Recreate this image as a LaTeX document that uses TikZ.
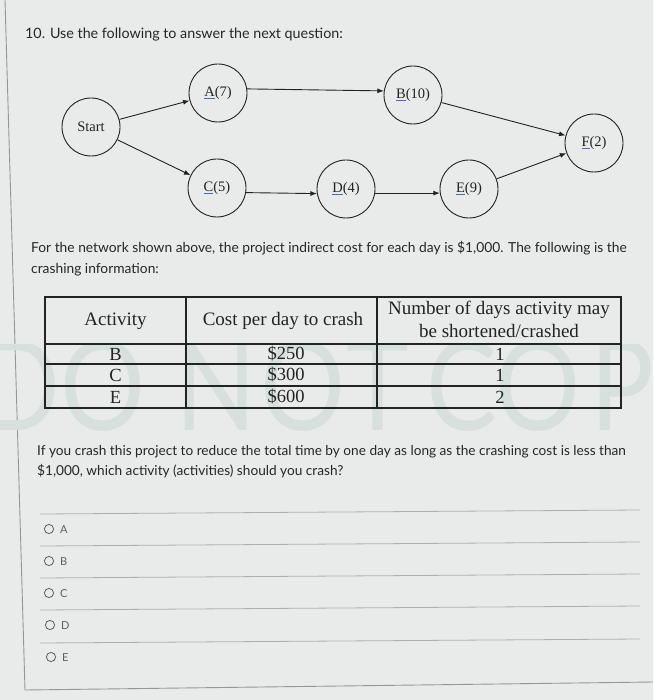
\documentclass[tikz,border=0pt]{standalone}
\usepackage{fontspec}
\usepackage{graphicx}
\setmainfont{Liberation Serif}
\newfontfamily\lato{Lato}
\usetikzlibrary{arrows.meta}
\definecolor{bg}{RGB}{233,234,234}
\definecolor{wm}{RGB}{215,224,221}
\definecolor{ulblue}{RGB}{80,100,200}
\definecolor{ink}{RGB}{35,35,35}
\definecolor{uitext}{RGB}{38,38,38}
\definecolor{optgray}{RGB}{95,95,95}
\definecolor{sepgray}{RGB}{175,175,175}
\definecolor{framegray}{RGB}{150,150,150}
\newcommand\bluel[1]{{\color{ulblue}\underline{\color{ink}#1}}}
\begin{document}
\begin{tikzpicture}[x=1pt,y=-1pt,
  evt/.style={circle,draw=ink,line width=0.9pt,minimum size=58pt,inner sep=0pt,
    font=\fontsize{14.5}{14.5}\selectfont,text=ink},
  arr/.style={draw=ink,line width=0.9pt,-{Latex[length=6.5pt,width=5pt]}},
  ui/.style={anchor=base west,inner sep=0pt,font=\lato\fontsize{13.8}{16}\selectfont,text=uitext},
  tbl/.style={inner sep=0pt,font=\fontsize{18.5}{20}\selectfont,text=ink,align=center},
  thead/.style={inner sep=0pt,font=\fontsize{19}{21}\selectfont,text=ink,align=center},
  tline/.style={draw=ink,line width=1.2pt},
  wml/.style={anchor=base,inner sep=0pt,font=\lato\fontsize{125}{125}\selectfont,text=wm},
  opt/.style={anchor=base west,inner sep=0pt,font=\lato\fontsize{11}{13}\selectfont,text=optgray},
  radio/.style={draw=optgray,line width=0.8pt},
  sep/.style={draw=sepgray,line width=0.8pt}]
\fill[bg] (0,0) rectangle (653,700);
\useasboundingbox (0,0) rectangle (653,700);
% frame
\draw[framegray,line width=0.9pt] (5,0) -- (25,690) -- (653,682);

% header
\node[ui,font=\lato\fontsize{14.3}{16}\selectfont] (title) at (25,39) {10. Use the following to answer the next question:};

% network
\node[evt] (start) at (91,127) {Start};
\node[evt] (A) at (218,93) {\bluel{A}(7)};
\node[evt] (B) at (413,95) {\bluel{B}(10)};
\node[evt] (F) at (594,143) {\bluel{F}(2)};
\node[evt] (C) at (217,188) {\bluel{C}(5)};
\node[evt] (D) at (346,189) {\bluel{D}(4)};
\node[evt] (E) at (469,189) {\bluel{E}(9)};
\draw[arr] (start) -- (A);
\draw[arr] (start) -- (C);
\draw[arr] (A.8) -- (B.172);
\draw[arr] (B) -- (F);
\draw[arr] (C.-9) -- (D.189);
\draw[arr] (D.-8) -- (E.188);
\draw[arr] (E) -- (F);

% paragraph
\node[ui] (p1) at (31,252) {For the network shown above, the project indirect cost for each day is \$1,000. The following is the};
\node[ui] (p2) at (31,273) {crashing information:};

% watermark
\begin{scope}
\clip (0,344) rectangle (653,432);
\node[wml] (w1) at (20,430) {\scalebox{0.85}[1]{D}};
\node[wml] (w2) at (103,430) {\scalebox{0.85}[1]{O}};
\node[wml] (w3) at (216,430) {\scalebox{0.85}[1]{N}};
\node[wml] (w4) at (303,430) {\scalebox{0.85}[1]{O}};
\node[wml] (w5) at (378,430) {\scalebox{0.85}[1]{T}};
\node[wml] (w6) at (462,430) {\scalebox{0.85}[1]{C}};
\node[wml] (w7) at (538,430) {\scalebox{0.85}[1]{O}};
\node[wml] (w8) at (622,430) {\scalebox{0.85}[1]{P}};
\end{scope}

% table
\draw[tline] (45,297) rectangle (621,408);
\draw[tline] (186,297) -- (186,408);
\draw[tline] (377,297) -- (377,408);
\draw[tline] (45,344) -- (621,344);
\draw[tline] (45,364) -- (621,364);
\draw[tline] (45,386) -- (621,386);
\node[thead] (h1) at (115.5,321) {Activity};
\node[thead] (h2) at (283,321) {Cost per day to crash};
\node[thead] (h3a) at (499,310) {Number of days activity may};
\node[thead] (h3b) at (499,331) {be shortened/crashed};
\node[tbl] (r1a) at (115.5,354) {B};
\node[tbl] (r1b) at (286,354) {\$250};
\node[tbl] (r1c) at (500,354) {1};
\node[tbl] (r2a) at (115.5,375) {C};
\node[tbl] (r2b) at (286,375) {\$300};
\node[tbl] (r2c) at (500,375) {1};
\node[tbl] (r3a) at (115.5,397) {E};
\node[tbl] (r3b) at (286,397) {\$600};
\node[tbl] (r3c) at (500,397) {2};

% question
\node[ui,font=\lato\fontsize{13.65}{16}\selectfont] (q1) at (37,455) {If you crash this project to reduce the total time by one day as long as the crashing cost is less than};
\node[ui,font=\lato\fontsize{13.65}{16}\selectfont] (q2) at (37,475) {\$1,000, which activity (activities) should you crash?};

% options
\draw[sep] (40,514) -- (640,510);
\draw[sep] (40,546) -- (640,542);
\draw[sep] (40,578) -- (640,574);
\draw[sep] (40,610) -- (640,606);
\draw[sep] (40,643) -- (640,639);
\draw[radio] (49,529) circle (4.6);
\node[opt] (oa) at (60,533) {A};
\draw[radio] (49,561) circle (4.6);
\node[opt] (ob) at (60,565) {B};
\draw[radio] (49,593) circle (4.6);
\node[opt] (oc) at (60,597) {C};
\draw[radio] (50,625) circle (4.6);
\node[opt] (od) at (61,629) {D};
\draw[radio] (51,657) circle (4.6);
\node[opt] (oe) at (62,661) {E};
\end{tikzpicture}
\end{document}
